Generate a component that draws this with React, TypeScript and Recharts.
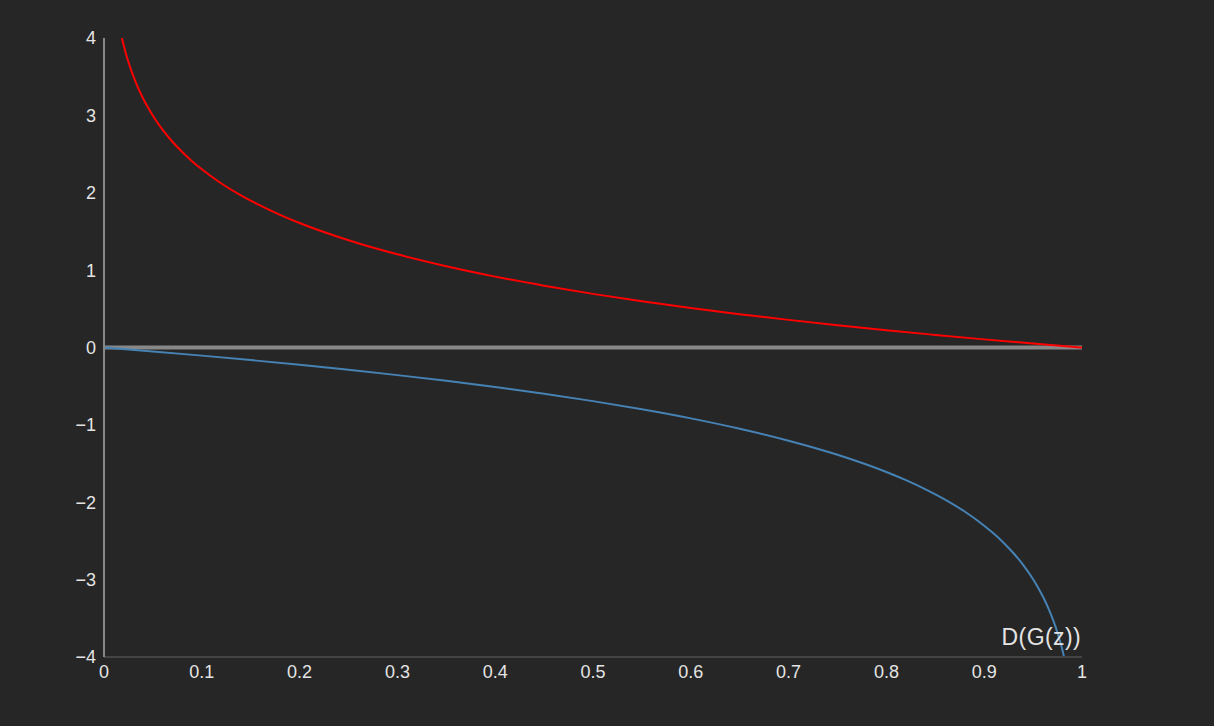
import React from "react";
import { LineChart, Line, XAxis, YAxis } from "recharts";

const xTicks = [0, 0.1, 0.2, 0.3, 0.4, 0.5, 0.6, 0.7, 0.8, 0.9, 1];
const yTicks = [-4, -3, -2, -1, 0, 1, 2, 3, 4];

// red curve (upper)
const redX = [0.0183, 0.02, 0.022, 0.025, 0.028, 0.03, 0.035, 0.04, 0.045, 0.05, 0.06, 0.07, 0.08, 0.09, 0.1, 0.12, 0.14, 0.16, 0.18, 0.2, 0.25, 0.3, 0.35, 0.4, 0.45, 0.5, 0.55, 0.6, 0.65, 0.7, 0.75, 0.8, 0.85, 0.9, 0.95, 1.0];
const redY = [4.0, 3.912, 3.817, 3.689, 3.576, 3.507, 3.352, 3.219, 3.101, 2.996, 2.813, 2.659, 2.526, 2.408, 2.303, 2.12, 1.966, 1.833, 1.715, 1.609, 1.386, 1.204, 1.05, 0.916, 0.799, 0.693, 0.598, 0.511, 0.431, 0.357, 0.288, 0.223, 0.163, 0.105, 0.051, 0];

// blue curve (lower)
const blueX = [0, 0.05, 0.1, 0.15, 0.2, 0.25, 0.3, 0.35, 0.4, 0.45, 0.5, 0.55, 0.6, 0.65, 0.7, 0.75, 0.8, 0.82, 0.84, 0.86, 0.88, 0.9, 0.91, 0.92, 0.93, 0.94, 0.95, 0.955, 0.96, 0.965, 0.97, 0.972, 0.975, 0.978, 0.98, 0.9817];
const blueY = [0, -0.051, -0.105, -0.163, -0.223, -0.288, -0.357, -0.431, -0.511, -0.598, -0.693, -0.799, -0.916, -1.05, -1.204, -1.386, -1.609, -1.715, -1.833, -1.966, -2.12, -2.303, -2.408, -2.526, -2.659, -2.813, -2.996, -3.101, -3.219, -3.352, -3.507, -3.576, -3.689, -3.817, -3.912, -4.0];

const zeroX = [0, 1];
const zeroY = [0, 0];

const redData = redX.map((x, i) => ({ x, y: redY[i] }));
const blueData = blueX.map((x, i) => ({ x, y: blueY[i] }));
const zeroData = zeroX.map((x, i) => ({ x, y: zeroY[i] }));

const FONT = "'Liberation Sans', Arial, sans-serif";
const TICK = { fill: "#e4e4e4", fontSize: 18, fontFamily: FONT };

const AxisTitle = (props: any) => {
  const vb = props.viewBox || {};
  return (
    <text
      x={vb.x + vb.width - 1}
      y={vb.y - 12}
      textAnchor="end"
      fill="#e4e4e4"
      fontSize={23}
      letterSpacing={0.4}
      fontFamily={FONT}
    >
      D(G(z))
    </text>
  );
};

export default function App() {
  return (
    <div style={{ width: 1214, height: 726, background: "#262626" }}>
      <style>{`body{margin:0;background:#262626;} .recharts-cartesian-axis-tick-value{font-size:18px;font-family:'Liberation Sans', Arial, sans-serif;}`}</style>
      <LineChart
        width={1214}
        height={726}
        margin={{ top: 38, right: 132, bottom: 39, left: 0 }}
      >
        <XAxis
          dataKey="x"
          type="number"
          domain={[0, 1]}
          ticks={xTicks}
          tickLine={false}
          axisLine={{ stroke: "#444444", strokeWidth: 2 }}
          tick={TICK}
          fontSize={18}
          tickFormatter={(v: number) => String(v)}
          label={<AxisTitle />}
        />
        <YAxis
          type="number"
          width={104}
          domain={[-4, 4]}
          ticks={yTicks}
          tickLine={false}
          axisLine={{ stroke: "#888888", strokeWidth: 2 }}
          tick={TICK}
          fontSize={18}
          tickFormatter={(v: number) => (v < 0 ? "\u2212" + Math.abs(v) : String(v))}
          allowDataOverflow
        />
        <Line
          data={zeroData}
          dataKey="y"
          stroke="#888888"
          strokeWidth={4}
          dot={false}
          isAnimationActive={false}
        />
        <Line
          data={blueData}
          dataKey="y"
          type="monotone"
          stroke="#4682b4"
          strokeWidth={2}
          dot={false}
          isAnimationActive={false}
        />
        <Line
          data={redData}
          dataKey="y"
          type="monotone"
          stroke="#ff0000"
          strokeWidth={2}
          dot={false}
          isAnimationActive={false}
        />
      </LineChart>
    </div>
  );
}
